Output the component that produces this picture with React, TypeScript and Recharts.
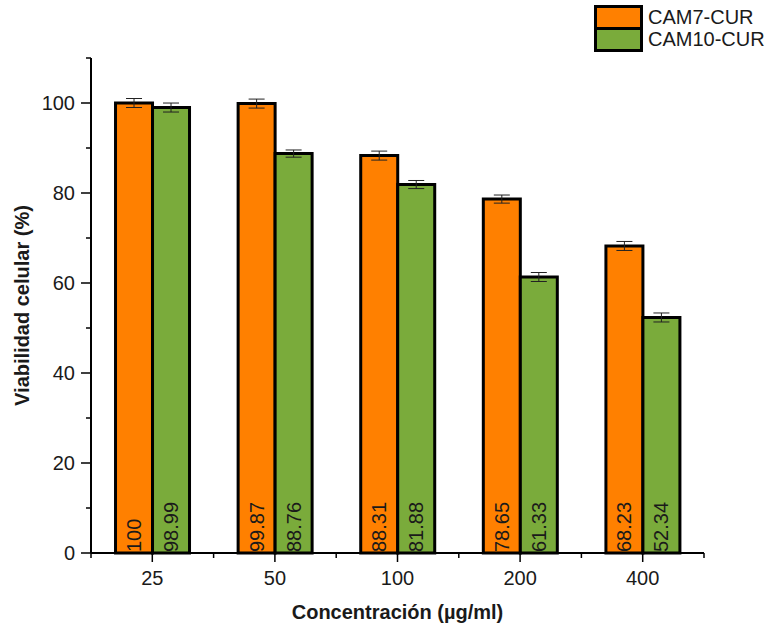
import React from 'react';
import { BarChart, Bar, XAxis, YAxis, ErrorBar, LabelList } from 'recharts';

const categories = ['25', '50', '100', '200', '400'];
const cam7 = [100, 99.87, 88.31, 78.65, 68.23];
const cam10 = [98.99, 88.76, 81.88, 61.33, 52.34];
const err7 = [1.0, 1.0, 1.0, 0.9, 1.0];
const err10 = [1.0, 0.8, 0.9, 1.0, 1.0];
const yTicks = [0, 10, 20, 30, 40, 50, 60, 70, 80, 90, 100, 110];
const seriesNames = ['CAM7-CUR', 'CAM10-CUR'];
const seriesColors = ['#FF8000', '#7AAB3B'];

const data = categories.map((c, i) => ({
  cat: c,
  cam7: cam7[i],
  cam10: cam10[i],
  err7: err7[i],
  err10: err10[i],
}));

const FONT = '"Liberation Sans", Arial, Helvetica, sans-serif';

const YTick = (props: any) => {
  const { x, y, payload } = props;
  const v = payload.value;
  const major = v % 20 === 0 && v <= 100;
  return (
    <g>
      <line x1={x} x2={x - (major ? 10 : 5)} y1={y} y2={y} stroke="#000" strokeWidth={1.5} />
      {major && (
        <text x={x - 16} y={y} textAnchor="end" dominantBaseline="central" fontSize={20} fontFamily={FONT} fill="#1a1a1a">
          {v}
        </text>
      )}
    </g>
  );
};

const XTick = (props: any) => {
  const { x, y, payload, index, visibleTicksCount, width } = props;
  let half = payload && typeof payload.offset === 'number' && payload.offset > 0 ? payload.offset : 0;
  if (!half) half = (width || 613) / categories.length / 2;
  const last = index === (visibleTicksCount ?? categories.length) - 1;
  return (
    <g>
      <line x1={x} x2={x} y1={y} y2={y + 9} stroke="#000" strokeWidth={1.5} />
      <line x1={x - half} x2={x - half} y1={y} y2={y + 5} stroke="#000" strokeWidth={1.5} />
      {last && <line x1={x + half} x2={x + half} y1={y} y2={y + 5} stroke="#000" strokeWidth={1.5} />}
      <text x={x} y={y + 25} textAnchor="middle" dominantBaseline="central" fontSize={20} fontFamily={FONT} fill="#1a1a1a">
        {payload.value}
      </text>
    </g>
  );
};

const ValueLabel = (props: any) => {
  const { x, y, width, height, value } = props;
  const cx = x + width / 2;
  const bottom = y + height - 1;
  return (
    <text
      x={cx}
      y={bottom}
      transform={`rotate(-90, ${cx}, ${bottom})`}
      textAnchor="start"
      dominantBaseline="central"
      fontSize={20}
      fontFamily={FONT}
      fill="#1a1a1a"
    >
      {String(value)}
    </text>
  );
};

const XTitle = (props: any) => {
  const vb = props.viewBox || {};
  return (
    <text x={vb.x + vb.width / 2} y={vb.y + 59} textAnchor="middle" dominantBaseline="central" fontSize={20} fontWeight="bold" fontFamily={FONT} fill="#1a1a1a">
      Concentración (µg/ml)
    </text>
  );
};

const YTitle = (props: any) => {
  const vb = props.viewBox || {};
  const cx = vb.x + 22;
  const cy = vb.y + vb.height / 2;
  return (
    <text x={cx} y={cy} transform={`rotate(-90, ${cx}, ${cy})`} textAnchor="middle" dominantBaseline="central" fontSize={20} fontWeight="bold" fontFamily={FONT} fill="#1a1a1a">
      Viabilidad celular (%)
    </text>
  );
};

export default function App() {
  return (
    <div style={{ position: 'absolute', left: 0, top: 0, width: 772, height: 632, background: '#fff' }}>
      <BarChart
        width={772}
        height={632}
        data={data}
        margin={{ top: 58, right: 68, bottom: 0, left: 0 }}
        barCategoryGap="20%"
        barGap={0}
      >
        <XAxis
          dataKey="cat"
          type="category"
          height={79}
          tickSize={0}
          tickMargin={0}
          tickLine={false}
          axisLine={{ stroke: '#000', strokeWidth: 2 }}
          tick={<XTick />}
          interval={0}
          label={<XTitle />}
        />
        <YAxis
          type="number"
          domain={[0, 110]}
          ticks={yTicks}
          interval={0}
          width={91}
          tickSize={0}
          tickMargin={0}
          tickLine={false}
          axisLine={{ stroke: '#000', strokeWidth: 2 }}
          tick={<YTick />}
          label={<YTitle />}
        />
        <Bar dataKey="cam7" fill={seriesColors[0]} stroke="#000" strokeWidth={3} isAnimationActive={false}>
          <ErrorBar dataKey="err7" width={8} stroke="#222" strokeWidth={1} isAnimationActive={false} />
          <LabelList dataKey="cam7" content={<ValueLabel />} />
        </Bar>
        <Bar dataKey="cam10" fill={seriesColors[1]} stroke="#000" strokeWidth={3} isAnimationActive={false}>
          <ErrorBar dataKey="err10" width={8} stroke="#222" strokeWidth={1} isAnimationActive={false} />
          <LabelList dataKey="cam10" content={<ValueLabel />} />
        </Bar>
      </BarChart>
      <div style={{ position: 'absolute', left: 594, top: 5, fontFamily: FONT }}>
        {seriesNames.map((n, i) => (
          <div key={n} style={{ display: 'flex', alignItems: 'center', height: 25, marginTop: i === 0 ? 0 : -3 }}>
            <div
              style={{
                width: 43,
                height: 19,
                background: seriesColors[i],
                border: '3px solid #000',
              }}
            />
            <span style={{ marginLeft: 5, fontSize: 20, color: '#1a1a1a', lineHeight: '25px', whiteSpace: 'nowrap' }}>{n}</span>
          </div>
        ))}
      </div>
    </div>
  );
}
